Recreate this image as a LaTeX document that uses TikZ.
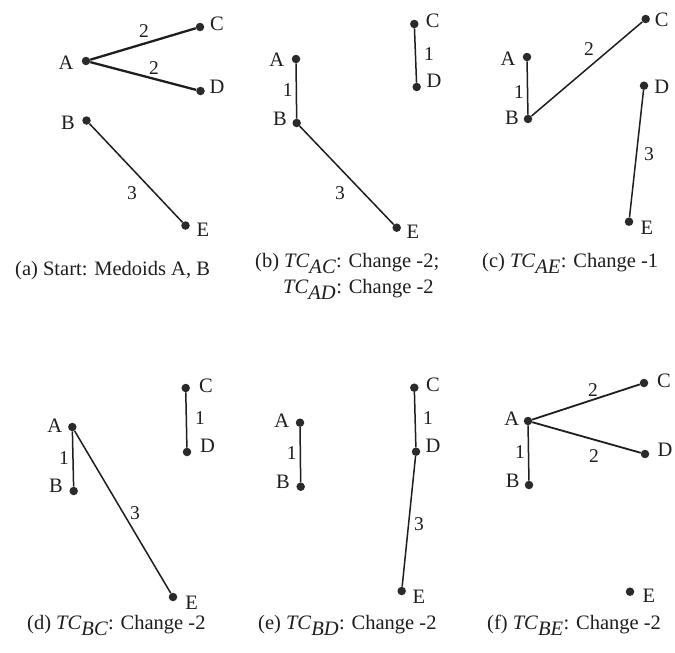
\documentclass[tikz,border=0pt]{standalone}
\usepackage{fontspec}
\setmainfont{Liberation Serif}
\definecolor{ink}{HTML}{1E1E1E}
\definecolor{dotc}{HTML}{2A2A2A}
\tikzset{
  pt/.style={circle,fill=dotc,draw=none,inner sep=0pt,minimum size=8.5pt},
  lab/.style={inner sep=0pt,text=ink,font=\fontsize{20.5}{24}\selectfont},
  elab/.style={inner sep=0pt,text=ink,font=\fontsize{19.5}{22}\selectfont},
  captext/.style={inner sep=0pt,anchor=base west,text=ink,font=\fontsize{20.5}{24}\selectfont},
  conn/.style={draw=ink,line width=1.5pt},
  thickconn/.style={draw=ink,line width=2.3pt},
  midconn/.style={draw=ink,line width=1.8pt}
}
\begin{document}
\begin{tikzpicture}[x=1pt,y=-1pt]
\useasboundingbox[fill=white] (0,0) rectangle (675,653);
% ---------- (a)
\node[pt] (aA) at (86,61) {};
\node[pt] (aB) at (86.5,120.5) {};
\node[pt] (aC) at (200,27) {};
\node[pt] (aD) at (200.5,91) {};
\node[pt] (aE) at (185.5,225.5) {};
\node[lab] (aAl) at (66,63) {A};
\node[lab] (aBl) at (68,123) {B};
\node[lab] (aCl) at (217,24) {C};
\node[lab] (aDl) at (217,87) {D};
\node[lab] (aEl) at (203,230) {E};
\draw[thickconn] (aA) -- (aC);
\draw[thickconn] (aA) -- (aD);
\draw[conn] (aB) -- (aE);
\node[elab] (aAC) at (144,31) {2};
\node[elab] (aAD) at (154,68) {2};
\node[elab] (aBE) at (132,193) {3};
\node[captext] (acap) at (15,275) {(a) Start: Medoids A, B};
% ---------- (b)
\node[pt] (bA) at (296,59) {};
\node[pt] (bB) at (296.7,123) {};
\node[pt] (bC) at (414.3,24) {};
\node[pt] (bD) at (416.7,87) {};
\node[pt] (bE) at (396.7,227.7) {};
\node[lab] (bAl) at (276.7,60) {A};
\node[lab] (bBl) at (280,118.7) {B};
\node[lab] (bCl) at (432.7,21) {C};
\node[lab] (bDl) at (434,81) {D};
\node[lab] (bEl) at (413,231.7) {E};
\draw[conn] (bA) -- (bB);
\draw[conn] (bC) -- (bD);
\draw[conn] (bB) -- (bE);
\node[elab] (bAB) at (287.7,90) {1};
\node[elab] (bCD) at (429,54) {1};
\node[elab] (bBE) at (340,193) {3};
\node[captext] (bcap1) at (255,267) {(b) \textit{TC}$_{\textit{AC}}$: Change -2;};
\node[captext] (bcap2) at (283,293) {\textit{TC}$_{\textit{AD}}$: Change -2};
% ---------- (c)
\node[pt] (cA) at (527,57) {};
\node[pt] (cB) at (528,119) {};
\node[pt] (cC) at (645.7,19) {};
\node[pt] (cD) at (644,85.7) {};
\node[pt] (cE) at (629,221.7) {};
\node[lab] (cAl) at (508,59) {A};
\node[lab] (cBl) at (512,118) {B};
\node[lab] (cCl) at (661.7,20) {C};
\node[lab] (cDl) at (661.7,87) {D};
\node[lab] (cEl) at (647,228) {E};
\draw[conn] (cA) -- (cB);
\draw[conn] (cB) -- (cC);
\draw[conn] (cD) -- (cE);
\node[elab] (cAB) at (519,92) {1};
\node[elab] (cBC) at (589,49) {2};
\node[elab] (cDE) at (649,154) {3};
\node[captext] (ccap) at (482,267) {(c) \textit{TC}$_{\textit{AE}}$: Change -1};
% ---------- (d)
\node[pt] (dA) at (72.3,427) {};
\node[pt] (dB) at (73.7,491) {};
\node[pt] (dC) at (185.7,388) {};
\node[pt] (dD) at (187,452) {};
\node[pt] (dE) at (173,597) {};
\node[lab] (dAl) at (54.7,426) {A};
\node[lab] (dBl) at (56,486) {B};
\node[lab] (dCl) at (206,386) {C};
\node[lab] (dDl) at (207.5,446) {D};
\node[lab] (dEl) at (191.7,602.5) {E};
\draw[conn] (dA) -- (dB);
\draw[conn] (dC) -- (dD);
\draw[conn] (dA) -- (dE);
\node[elab] (dAB) at (64,458) {1};
\node[elab] (dCD) at (200,418) {1};
\node[elab] (dAE) at (135,512.7) {3};
\node[captext] (dcap) at (27,629) {(d) \textit{TC}$_{\textit{BC}}$: Change -2};
% ---------- (e)
\node[pt] (eA) at (300,422.7) {};
\node[pt] (eB) at (300.7,486.7) {};
\node[pt] (eC) at (414.3,387.7) {};
\node[pt] (eD) at (416,451.7) {};
\node[pt] (eE) at (401.7,591) {};
\node[lab] (eAl) at (281.7,420.7) {A};
\node[lab] (eBl) at (283,481.7) {B};
\node[lab] (eCl) at (433,385) {C};
\node[lab] (eDl) at (433,445.7) {D};
\node[lab] (eEl) at (419,596.7) {E};
\draw[conn] (eA) -- (eB);
\draw[conn] (eC) -- (eD);
\draw[conn] (eD) -- (eE);
\node[elab] (eAB) at (291.7,453) {1};
\node[elab] (eCD) at (428,417.7) {1};
\node[elab] (eDE) at (419,524) {3};
\node[captext] (ecap) at (258,629) {(e) \textit{TC}$_{\textit{BD}}$: Change -2};
% ---------- (f)
\node[pt] (fA) at (528,421) {};
\node[pt] (fB) at (529,485) {};
\node[pt] (fC) at (644,383) {};
\node[pt] (fD) at (645,454) {};
\node[pt] (fE) at (630,591.7) {};
\node[lab] (fAl) at (511.7,419) {A};
\node[lab] (fBl) at (512.7,480.7) {B};
\node[lab] (fCl) at (664,380.7) {C};
\node[lab] (fDl) at (665,450) {D};
\node[lab] (fEl) at (649,596) {E};
\draw[midconn] (fA) -- (fC);
\draw[midconn] (fA) -- (fD);
\draw[conn] (fA) -- (fB);
\node[elab] (fAC) at (593,390) {2};
\node[elab] (fAD) at (594,455.7) {2};
\node[elab] (fAB) at (520,451.7) {1};
\node[captext] (fcap) at (487,629) {(f) \textit{TC}$_{\textit{BE}}$: Change -2};
\end{tikzpicture}
\end{document}
